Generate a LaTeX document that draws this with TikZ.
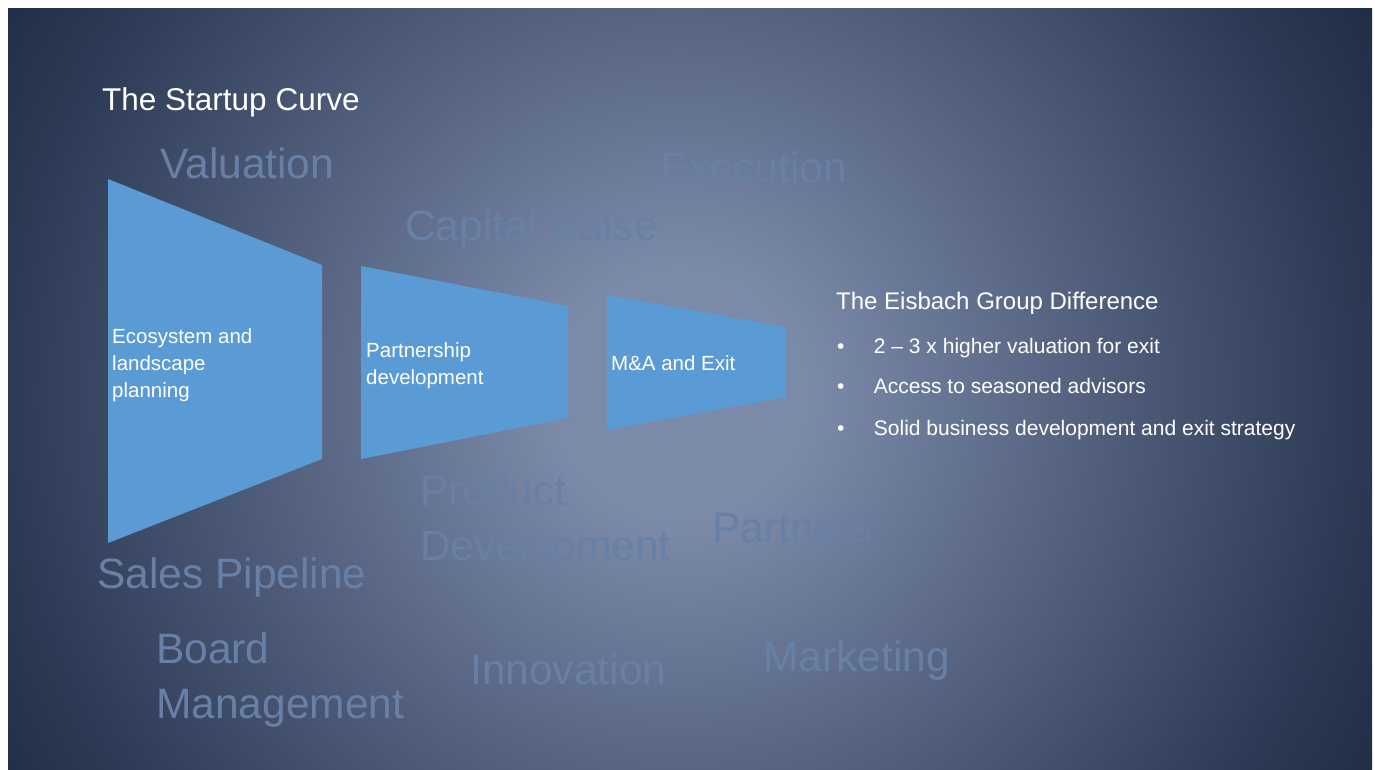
\documentclass[tikz,border=0pt]{standalone}
\usepackage{fontspec}
\setmainfont{Liberation Sans}
\usetikzlibrary{positioning}

\definecolor{stageblue}{RGB}{91,155,213}
\definecolor{ghostblue}{RGB}{104,128,166}
\definecolor{glowhi}{RGB}{122,138,168}
\definecolor{glowmid}{RGB}{86,100,130}
\definecolor{glowlow}{RGB}{44,58,85}
\definecolor{glowedge}{RGB}{30,44,70}

\pgfdeclareradialshading{slideglow}{\pgfpointorigin}{%
  color(0bp)=(glowhi); color(4bp)=(glowhi); color(12bp)=(glowmid);
  color(21bp)=(glowlow); color(25bp)=(glowedge); color(50bp)=(glowedge)}

\begin{document}
\begin{tikzpicture}[
  x=1pt, y=-1pt,
  stage/.style   ={fill=stageblue},
  stagetxt/.style={anchor=base west, inner sep=0pt, align=left, text=white,
                   font=\fontsize{20.5}{27}\selectfont},
  ghost/.style   ={anchor=base west, inner sep=0pt, align=left, text=ghostblue,
                   font=\fontsize{42.5}{55}\selectfont},
  heading/.style ={anchor=base west, inner sep=0pt, text=white},
  dot/.style     ={anchor=base west, inner sep=0pt, text=white,
                   font=\fontsize{21}{25}\selectfont},
  point/.style   ={inner sep=0pt, text=white, font=\fontsize{21}{25}\selectfont}
]
\useasboundingbox (0,0) rectangle (1375,769);
\fill[white] (0,0) rectangle (1375,769);

% slide with the soft glow in the middle
\begin{scope}
  \clip (8,8) rectangle (1372,769);
  \fill[glowedge] (8,8) rectangle (1372,769);
  \shade[shading=slideglow] (680,395) circle (800pt);
\end{scope}

% words in the background (multi-line ones sit on their last baseline)
\node[ghost] (valuation)  at (160,178) {Valuation};
\node[ghost] (execution)  at (660,182) {Execution};
\node[ghost] (capital)    at (405,240) {Capital Raise};
\node[ghost] (product)    at (420,560) {Product\\Development};
\node[ghost] (partners)   at (712,542) {Partners};
\node[ghost] (sales)      at (97,588)  {Sales Pipeline};
\node[ghost] (board)      at (156,718) {Board\\Management};
\node[ghost] (innovation) at (470,684) {Innovation};
\node[ghost] (marketing)  at (763,671) {Marketing};

\node[heading, font=\fontsize{31.5}{36}\selectfont] (title) at (102,110) {The Startup Curve};

% the three stages
\fill[stage] (108,179) -- (322,265) -- (322,459) -- (108,543) -- cycle;
\fill[stage] (361,266) -- (568,306) -- (568,418) -- (361,459) -- cycle;
\fill[stage] (607,295) -- (786,327) -- (786,397) -- (607,430) -- cycle;

\node[stagetxt] (eco)     at (112,397) {Ecosystem and\\landscape\\planning};
\node[stagetxt] (partner) at (366,384) {Partnership\\development};
\node[stagetxt] (exit)    at (611,370) {M\&A and Exit};

\node[heading, font=\fontsize{24}{28}\selectfont] (diff) at (836,309) {The Eisbach Group Difference};

\node[dot] (dot1) at (837,353) {\textbullet};
\node[dot] (dot2) at (837,393) {\textbullet};
\node[dot] (dot3) at (837,435) {\textbullet};
\node[point, base right=29pt of dot1] (gain)     {2 – 3 x higher valuation for exit};
\node[point, base right=29pt of dot2] (advisors) {Access to seasoned advisors};
\node[point, base right=29pt of dot3] (strategy) {Solid business development and exit strategy};
\end{tikzpicture}
\end{document}
